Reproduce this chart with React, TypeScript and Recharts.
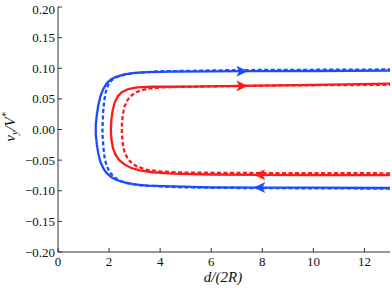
import { LineChart, Line, XAxis, YAxis } from "recharts";

// phase-space trajectories, traced from bottom-right, around the left, out along the top
const blueSolid = [
  { x: 13, y: -0.0955 }, { x: 10, y: -0.095 }, { x: 7.9, y: -0.0948, arrow: "left" },
  { x: 6, y: -0.0945 }, { x: 4.5, y: -0.093 }, { x: 3.5, y: -0.0915 }, { x: 3.0, y: -0.0895 },
  { x: 2.6, y: -0.0865 }, { x: 2.3, y: -0.0825 }, { x: 2.08, y: -0.0775 }, { x: 1.9, y: -0.071 },
  { x: 1.77, y: -0.063 }, { x: 1.66, y: -0.053 }, { x: 1.58, y: -0.04 }, { x: 1.52, y: -0.024 },
  { x: 1.48, y: -0.008 }, { x: 1.48, y: 0.008 }, { x: 1.52, y: 0.024 }, { x: 1.58, y: 0.04 },
  { x: 1.66, y: 0.054 }, { x: 1.77, y: 0.066 }, { x: 1.9, y: 0.075 }, { x: 2.08, y: 0.082 },
  { x: 2.3, y: 0.0865 }, { x: 2.6, y: 0.09 }, { x: 3.0, y: 0.0925 }, { x: 3.5, y: 0.0938 },
  { x: 4.5, y: 0.0945 }, { x: 6, y: 0.095 }, { x: 7.2, y: 0.0952, arrow: "right" },
  { x: 10, y: 0.0955 }, { x: 13, y: 0.096 },
];

const blueDashed = [
  { x: 13, y: -0.0965 }, { x: 10, y: -0.096 }, { x: 7, y: -0.0955 }, { x: 5, y: -0.0945 },
  { x: 4, y: -0.093 }, { x: 3.2, y: -0.091 }, { x: 2.7, y: -0.0875 }, { x: 2.4, y: -0.0835 },
  { x: 2.17, y: -0.077 }, { x: 2.02, y: -0.069 }, { x: 1.9, y: -0.059 }, { x: 1.83, y: -0.047 },
  { x: 1.78, y: -0.031 }, { x: 1.75, y: -0.013 }, { x: 1.74, y: 0 }, { x: 1.75, y: 0.013 },
  { x: 1.77, y: 0.03 }, { x: 1.81, y: 0.047 }, { x: 1.87, y: 0.061 }, { x: 1.96, y: 0.072 },
  { x: 2.1, y: 0.0805 }, { x: 2.3, y: 0.0857 }, { x: 2.6, y: 0.0895 }, { x: 3.0, y: 0.0922 },
  { x: 4, y: 0.095 }, { x: 5.5, y: 0.096 }, { x: 7, y: 0.097 }, { x: 10, y: 0.0975 }, { x: 13, y: 0.098 },
];

const redSolid = [
  { x: 13, y: -0.0745 }, { x: 10, y: -0.0743 }, { x: 7.9, y: -0.074, arrow: "left" },
  { x: 6, y: -0.0735 }, { x: 4.5, y: -0.0722 }, { x: 3.7, y: -0.0698 }, { x: 3.2, y: -0.0667 },
  { x: 2.85, y: -0.0625 }, { x: 2.6, y: -0.057 }, { x: 2.4, y: -0.05 }, { x: 2.25, y: -0.041 },
  { x: 2.15, y: -0.03 }, { x: 2.09, y: -0.016 }, { x: 2.07, y: 0 }, { x: 2.09, y: 0.016 },
  { x: 2.14, y: 0.031 }, { x: 2.22, y: 0.044 }, { x: 2.34, y: 0.054 }, { x: 2.5, y: 0.061 },
  { x: 2.75, y: 0.066 }, { x: 3.1, y: 0.0688 }, { x: 3.7, y: 0.0698 }, { x: 5.2, y: 0.07 },
  { x: 7.2, y: 0.0712, arrow: "right" }, { x: 10, y: 0.073 }, { x: 13, y: 0.0748 },
];

const redDashed = [
  { x: 13, y: -0.0715 }, { x: 10, y: -0.0713 }, { x: 7, y: -0.071 }, { x: 4.8, y: -0.0702 },
  { x: 4.0, y: -0.0685 }, { x: 3.5, y: -0.0658 }, { x: 3.15, y: -0.0615 }, { x: 2.9, y: -0.0555 },
  { x: 2.72, y: -0.047 }, { x: 2.6, y: -0.036 }, { x: 2.53, y: -0.021 }, { x: 2.5, y: -0.007 },
  { x: 2.5, y: 0.007 }, { x: 2.53, y: 0.022 }, { x: 2.6, y: 0.037 }, { x: 2.72, y: 0.048 },
  { x: 2.9, y: 0.0565 }, { x: 3.15, y: 0.0625 }, { x: 3.5, y: 0.0665 }, { x: 4.1, y: 0.0688 },
  { x: 5, y: 0.0698 }, { x: 6.5, y: 0.0708 }, { x: 9, y: 0.072 }, { x: 13, y: 0.073 },
];

const xTicks = [0, 2, 4, 6, 8, 10, 12];
const yTicks = [-0.2, -0.15, -0.1, -0.05, 0, 0.05, 0.1, 0.15, 0.2];

const BLUE = "#1a4dff";
const RED = "#ff1a1a";
const FONT = "Liberation Serif, DejaVu Serif, serif";

const fmtY = (v: number) => v.toFixed(2).replace("-", "\u2212");
const noLabel = () => <g />;

function XTick(props: any) {
  const { x, payload } = props;
  return (
    <text x={x} y={266} textAnchor="middle" fontFamily={FONT} fontSize={13} fill="#111" style={{ fontFamily: FONT }}>
      {payload.value}
    </text>
  );
}

function YTick(props: any) {
  const { y, payload } = props;
  return (
    <text x={55} y={y + 4.5} textAnchor="end" fontFamily={FONT} fontSize={13} fill="#111" style={{ fontFamily: FONT }}>
      {fmtY(payload.value)}
    </text>
  );
}

function arrowDot(color: string) {
  return (props: any) => {
    const { cx, cy, payload, index } = props;
    if (!payload || !payload.arrow || cx == null) return <g key={index} />;
    const s = payload.arrow === "right" ? 1 : -1;
    const d = `M${cx + 5.5 * s},${cy} L${cx - 5 * s},${cy - 5} L${cx - 2.5 * s},${cy} L${cx - 5 * s},${cy + 5} Z`;
    return <path key={index} d={d} fill={color} stroke={color} strokeWidth={0.5} />;
  };
}

export default function App() {
  return (
    <div style={{ position: "absolute", left: 0, top: 0, width: 392, height: 288 }}>
      <LineChart width={392} height={288} margin={{ top: 7, right: 2, bottom: 0, left: 0 }}>
        <XAxis
          xAxisId="b"
          type="number"
          dataKey="x"
          domain={[0, 13]}
          ticks={xTicks}
          allowDataOverflow
          height={36}
          tickSize={-4}
          tick={XTick}
          stroke="#333"
        />
        <XAxis
          xAxisId="t"
          orientation="top"
          type="number"
          dataKey="x"
          domain={[0, 13]}
          ticks={xTicks}
          allowDataOverflow
          height={0}
          tickSize={-4}
          tick={noLabel}
          stroke="#333"
        />
        <YAxis
          yAxisId="l"
          type="number"
          domain={[-0.2, 0.2]}
          ticks={yTicks}
          allowDataOverflow
          width={58}
          tickSize={-4}
          tick={YTick}
          stroke="#333"
        />
        <YAxis
          yAxisId="r"
          orientation="right"
          type="number"
          domain={[-0.2, 0.2]}
          ticks={yTicks}
          allowDataOverflow
          width={0}
          tickSize={-4}
          tick={noLabel}
          stroke="#333"
        />
        <Line xAxisId="b" yAxisId="l" data={redDashed} dataKey="y" type="linear" stroke={RED} strokeWidth={2.3} strokeDasharray="4 2.5" dot={false} isAnimationActive={false} />
        <Line xAxisId="b" yAxisId="l" data={redSolid} dataKey="y" type="linear" stroke={RED} strokeWidth={2.3} dot={arrowDot(RED)} isAnimationActive={false} />
        <Line xAxisId="b" yAxisId="l" data={blueDashed} dataKey="y" type="linear" stroke={BLUE} strokeWidth={2.3} strokeDasharray="4 2.5" dot={false} isAnimationActive={false} />
        <Line xAxisId="b" yAxisId="l" data={blueSolid} dataKey="y" type="linear" stroke={BLUE} strokeWidth={2.3} dot={arrowDot(BLUE)} isAnimationActive={false} />
      </LineChart>
      <svg width={392} height={288} style={{ position: "absolute", left: 0, top: 0, pointerEvents: "none" }}>
        <text x={223} y={282} textAnchor="middle" fontFamily={FONT} fontSize={15} fontStyle="italic" fill="#111" style={{ fontFamily: FONT }}>
          d/(2R)
        </text>
        <text transform="translate(15,127) rotate(-90)" textAnchor="middle" fontFamily={FONT} fontSize={15} fontStyle="italic" fill="#111" style={{ fontFamily: FONT }}>
          v<tspan fontSize={10} dy={3}>y</tspan>
          <tspan dy={-3}>/V</tspan>
          <tspan fontSize={10} dy={-6}>*</tspan>
        </text>
      </svg>
    </div>
  );
}
